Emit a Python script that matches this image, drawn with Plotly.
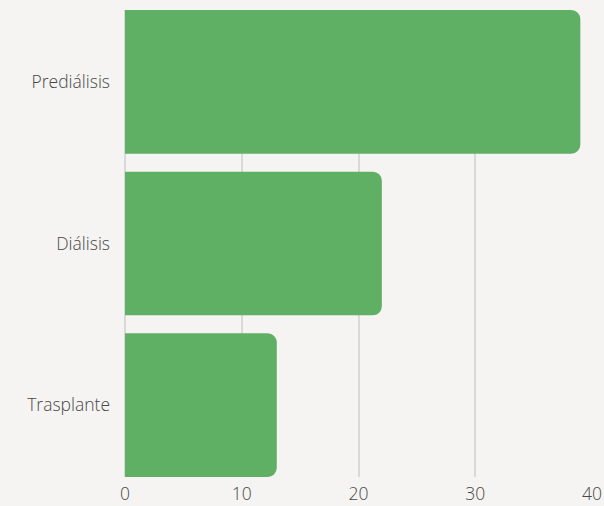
import plotly.graph_objects as go

categories = ["Prediálisis", "Diálisis", "Trasplante"]
values = [39, 22, 13]
x_ticks = [0, 10, 20, 30, 40]

fig = go.Figure(go.Bar(
    x=values, y=categories, orientation="h",
    marker=dict(color="#5faf65", line=dict(width=0)),
))
bg = "#f5f4f2"
fig.update_layout(
    width=604, height=506,
    paper_bgcolor=bg, plot_bgcolor=bg,
    margin=dict(l=125, r=12, t=10, b=29),
    bargap=0.111, barcornerradius=9,
    font=dict(family="Open Sans", size=17.5, color="#474747", weight=300),
    showlegend=False,
)
fig.update_xaxes(range=[0, 40.0], tickvals=x_ticks, showgrid=True, gridcolor="#d9d9d9",
                 gridwidth=1.5, zeroline=True, zerolinecolor="#d9d9d9", zerolinewidth=1.5,
                 showline=False, ticks="", ticklabelstandoff=4, automargin=False,
                 tickfont=dict(size=17.5))
w = 0.889
fig.update_yaxes(categoryorder="array", categoryarray=categories[::-1], showgrid=False,
                 ticks="", ticklabelstandoff=14, automargin=False, range=[-w / 2, 2 + w / 2])
fig.write_html("out.html", config={"displayModeBar": False},
               post_script="document.body.style.margin='0';document.body.style.background='%s';" % bg)
